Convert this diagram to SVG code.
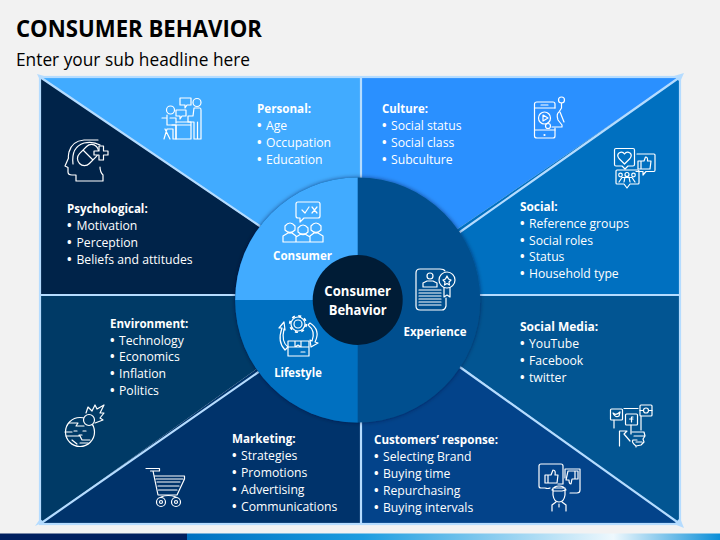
<svg xmlns="http://www.w3.org/2000/svg" width="720" height="540" viewBox="0 0 720 540">
<style>
text{font-family:"Open Sans","Liberation Sans",sans-serif;fill:#fff;font-size:12.2px}
.h{font-weight:700}
.b{font-weight:700}
.t{font-weight:700;font-size:23.5px;fill:#000}
.s{font-size:17.6px;fill:#000}
.c{font-weight:700;text-anchor:middle}
.m{font-weight:700;font-size:14px;text-anchor:middle}
.i{fill:none;stroke:#fff;stroke-width:1.2;stroke-linejoin:round;stroke-linecap:round}
.ln{stroke:#b5dcff;stroke-width:2.2;fill:none}
</style>
<defs>
<linearGradient id="bar" x1="0" x2="1" y1="0" y2="0">
<stop offset="0" stop-color="#0070c0"/><stop offset=".33" stop-color="#1c9de0"/><stop offset=".8" stop-color="#eef8fd"/><stop offset="1" stop-color="#0a8ed8"/>
</linearGradient>
<filter id="sh" x="-10%" y="-10%" width="120%" height="120%"><feDropShadow dx="0" dy="0" stdDeviation="2" flood-color="#001530" flood-opacity=".55"/></filter>
</defs>
<rect width="720" height="540" fill="#f2f2f2"/>
<rect y="533.5" width="187" height="6.5" fill="#001f5f"/>
<rect x="187" y="533.5" width="533" height="6.5" fill="url(#bar)"/>
<text class="t" x="16" y="37" textLength="246" lengthAdjust="spacingAndGlyphs">CONSUMER BEHAVIOR</text>
<text class="s" x="16" y="66" textLength="234" lengthAdjust="spacingAndGlyphs">Enter your sub headline here</text>

<g id="sectors">
<polygon points="40,77 360,77 360,295" fill="#41abff"/>
<polygon points="361,77 680,77 361,295" fill="#2a90ff"/>
<polygon points="680,77 680,295 361,295" fill="#0070c0"/>
<polygon points="680,295 680,524 361,295" fill="#025592"/>
<polygon points="680,524 361,524 361,295" fill="#03438a"/>
<polygon points="360,524 40,524 360,295" fill="#00336b"/>
<polygon points="40,524 40,295 360,295" fill="#003a66"/>
<polygon points="40,295 40,77 360,295" fill="#002349"/>
</g>
<g id="connectors">
<rect class="ln" x="40" y="77" width="640" height="447"/>
<path class="ln" d="M40 77L270 233M680 77L450 239M40 524L270 364M680 524L450 360M40 295H250M470 295H680M361 77V190M361 410V524"/>
<path d="M37 74L44 76L40 80ZM684 73L674 76L680 82ZM35 526L44 522L40 519ZM684 528L674 524L680 518Z" fill="#b5dcff"/>
</g>

<g id="wheel">
<circle cx="357.7" cy="300" r="122.5" fill="#01508f" filter="url(#sh)"/>
<path d="M357.7 300V177.500A122.500 122.500 0 0 0 235.200 300Z" fill="#41abff"/>
<path d="M357.7 300H235.200A122.500 122.500 0 0 0 357.700 422.500Z" fill="#0070c0"/>
</g>

<g id="consumer">
<text class="c" x="302.500" y="260" textLength="59" lengthAdjust="spacingAndGlyphs">Consumer</text>
<g class="i">
<path d="M298 202H318Q320 202 320 204V216Q320 218 318 218H304L300 222V218H298Q296 218 296 216V204Q296 202 298 202Z"/><path d="M302 210L305 213L309 207M312 207L317 213M317 207L312 213"/>
<path d="M285 226Q290 220 295 226V230Q290 235 285 230ZM298 228Q303 222 308 228V232Q303 237 298 232ZM311 226Q316 220 321 226V230Q316 235 311 230Z"/>
<path d="M283 242V236L288 233H292L296 236V242ZM296 242V237L301 234H305L310 237V242ZM310 242V236L314 233H318L323 236V242Z"/>
</g>
</g>
<g id="experience">
<text class="c" x="435" y="336" textLength="63" lengthAdjust="spacingAndGlyphs">Experience</text>
<g class="i">
<path d="M445 271Q444 269 440 269H420Q416 269 416 273V306Q416 310 420 310H442Q445 310 446 306V298"/>
<circle cx="430" cy="276" r="3"/><path d="M423 287V283L427 281H433L437 283V287Z"/>
<path d="M419 290H441M419 293H441M419 296H441M419 299H441M419 302H441M419 305H441"/>
<circle cx="447" cy="280" r="8"/><path d="M447 276L448.500 279L451 280L449 282L449.500 285L447 283.500L444.500 285L445 282L443 280L445.500 279Z"/><path d="M444 288V297L447 295L450 297V288"/>
</g>
</g>
<g id="lifestyle">
<text class="c" x="298" y="377" textLength="47.700" lengthAdjust="spacingAndGlyphs">Lifestyle</text>
<g class="i">
<circle cx="298" cy="324" r="7"/><circle cx="298" cy="324" r="4"/><circle cx="298" cy="324" r="8.200" stroke-dasharray="3 3.440" stroke-width="1.800" stroke-linecap="butt"/>
<path d="M288 341H309V356H288ZM288 347H309M295 341V347L298 345L301 347V341M301 352H305"/>
<path d="M285 350Q277 342 282 328L279 328L284 322L285 330L284 329Q281 342 288 347Z"/>
<path d="M310 323Q321 330 315 342L318 343L311 347L310 340L312 341Q316 331 308 325Z"/>
</g>
</g>
<g id="center">
<circle cx="357.7" cy="300" r="45" fill="#001c36"/>
<text class="m" x="357.700" y="296" textLength="66.700" lengthAdjust="spacingAndGlyphs">Consumer</text>
<text class="m" x="357.700" y="315" textLength="58" lengthAdjust="spacingAndGlyphs">Behavior</text>
</g>

<g id="personal">
<text class="h" x="257" y="113" textLength="54" lengthAdjust="spacingAndGlyphs">Personal:</text>
<text class="b" x="257" y="130">•</text><text x="266" y="130">Age</text>
<text class="b" x="257" y="147">•</text><text x="266" y="147">Occupation</text>
<text class="b" x="257" y="164">•</text><text x="266" y="164">Education</text>
<g class="i">
<circle cx="170.500" cy="110" r="4"/><circle cx="197" cy="102.500" r="4"/>
<path d="M180 98H191V105H187L185 108V105H180ZM176 110H186V116H182L180 119V116H176Z"/>
<path d="M167 115V125H176V139H173V129H167L164 139M165 129L170 139M162 118L166 118"/>
<path d="M170 118H176V123M172 125H191V122H177M176 125V139H191V125"/>
<path d="M194 108H200Q201 108 201 110V139H194V122H188V116H193ZM197.500 122V139"/>
</g>
</g>
<g id="culture">
<text class="h" x="382" y="113" textLength="46" lengthAdjust="spacingAndGlyphs">Culture:</text>
<text class="b" x="382" y="130">•</text><text x="391" y="130">Social status</text>
<text class="b" x="382" y="147">•</text><text x="391" y="147">Social class</text>
<text class="b" x="382" y="164">•</text><text x="391" y="164">Subculture</text>
<g class="i">
<path d="M555 108V104Q555 102 553 102H537Q534.500 102 534.500 104V136Q534.500 138 537 138H553Q555 138 555 136V128"/>
<path d="M534.500 108H555M534.500 130H555M541 105H548"/><circle cx="544.500" cy="135" r=".5"/>
<circle cx="544.500" cy="118" r="6"/><path d="M543 115L548 118L543 121Z"/><circle cx="548" cy="126" r="2.500"/>
<circle cx="561.500" cy="100" r="3"/><path d="M561.500 103V108L559 112Q556 114 558 120L562 125L562 127H552"/>
<path d="M560 112L564 122"/>
</g>
</g>
<g id="social">
<text class="h" x="520" y="211" textLength="37.700" lengthAdjust="spacingAndGlyphs">Social:</text>
<text class="b" x="520" y="228">•</text><text x="529" y="228">Reference groups</text>
<text class="b" x="520" y="244.500">•</text><text x="529" y="244.500">Social roles</text>
<text class="b" x="520" y="261">•</text><text x="529" y="261">Status</text>
<text class="b" x="520" y="278">•</text><text x="529" y="278">Household type</text>
<g class="i">
<path d="M616 148.500H633Q634.500 148.500 634.500 150V164.500Q634.500 166 633 166H628L625 169L622 166H616Q614.500 166 614.500 164.500V150Q614.500 148.500 616 148.500Z"/>
<path d="M624.500 164L619 158.500Q616.500 155 619 153Q622.500 151 624.500 154Q626.500 151 630 153Q632.500 155 630 158.500Z"/>
<path d="M637 154H654Q655 154 655 155V170Q655 171.500 654 171.500H646L643 175V171.500H636"/>
<path d="M638 161H641V169H638ZM641 161L644 161L645.500 157Q648 157 647.500 161H651L650 169H641"/>
<path d="M617 170H638Q639 170 639 171V183Q639 184 638 184H630L627 188L624 184H617Q616 184 616 183V171Q616 170 617 170Z"/>
<circle cx="627" cy="174.500" r="2"/><circle cx="620.500" cy="175" r="1.800"/><circle cx="633.500" cy="175" r="1.800"/>
<path d="M619 182L622 177.500H632L635 182M624 182L625 177M630 182L629 177"/>
</g>
</g>
<g id="psychological">
<text class="h" x="67" y="213" textLength="80.700" lengthAdjust="spacingAndGlyphs">Psychological:</text>
<text class="b" x="67" y="230">•</text><text x="76.500" y="230">Motivation</text>
<text class="b" x="67" y="247">•</text><text x="76.500" y="247">Perception</text>
<text class="b" x="67" y="264">•</text><text x="76.500" y="264">Beliefs and attitudes</text>
<g class="i">
<path d="M98 140H84Q72 141 69 152Q68 157 68.500 158L65 166L68 167.500V172Q68 175 72 175H76V181H103V175Q100 172 100 167"/>
<path d="M73 164Q71 147 84 143Q93 141 100 145"/>
<rect x="76" y="148" width="24" height="14" rx="7" transform="rotate(-45 88 155)"/><path d="M83.500 150.500L92.500 159.500"/>
<path d="M99 146H103.500V151H108V155H103.500V160H99V155H94V151H99Z" fill="#002349"/>
</g>
</g>
<g id="environment">
<text class="h" x="110" y="327.500" textLength="78.300" lengthAdjust="spacingAndGlyphs">Environment:</text>
<text class="b" x="110" y="344.500">•</text><text x="119" y="344.500">Technology</text>
<text class="b" x="110" y="361">•</text><text x="119" y="361">Economics</text>
<text class="b" x="110" y="378">•</text><text x="119" y="378">Inflation</text>
<text class="b" x="110" y="395">•</text><text x="119" y="395">Politics</text>
<g class="i">
<circle cx="80" cy="432" r="14.500"/><circle cx="89" cy="420" r="5.500" fill="#003a66"/>
<path d="M86 413L88 407L92 411L95 405L97 409L104 405L100 413L104 413L100 418L103 420L95 423"/>
<path d="M69 423H78L76 426H84M65 432H72M66 436H80L82 440H90M72 440L77 444M80 443H88M74 431H77M83 431H86M79 435H82"/>
</g>
</g>
<g id="marketing">
<text class="h" x="232" y="443" textLength="63.700" lengthAdjust="spacingAndGlyphs">Marketing:</text>
<text class="b" x="232" y="460">•</text><text x="241" y="460">Strategies</text>
<text class="b" x="232" y="477">•</text><text x="241" y="477">Promotions</text>
<text class="b" x="232" y="494">•</text><text x="241" y="494">Advertising</text>
<text class="b" x="232" y="511">•</text><text x="241" y="511">Communications</text>
<g class="i">
<path d="M146 468.500H159.500V471H150.500M153 471L158 495H177M154 476H184.500V479L177 495M156 479H183M157 482H180M158 486H179M158.500 490H177"/>
<circle cx="161" cy="502" r="4.500"/><circle cx="161" cy="502" r="1.500"/><circle cx="176" cy="502" r="4.500"/><circle cx="176" cy="502" r="1.500"/>
<path d="M161 497Q168 494 176 497"/>
</g>
</g>
<g id="social-media">
<text class="h" x="520" y="331" textLength="78.300" lengthAdjust="spacingAndGlyphs">Social Media:</text>
<text class="b" x="520" y="348">•</text><text x="529" y="348">YouTube</text>
<text class="b" x="520" y="365">•</text><text x="529" y="365">Facebook</text>
<text class="b" x="520" y="382">•</text><text x="529" y="382">twitter</text>
<g class="i">
<rect x="610.500" y="409" width="12" height="11" rx="1"/><rect x="625.500" y="414" width="12" height="11" rx="1"/><rect x="640" y="405" width="12" height="11" rx="1"/>
<path d="M613 413Q616 416 620 412L619 416Q615 418 613 413Z"/><path d="M633 417H631.500V422M629.500 419H633"/><circle cx="646" cy="410.500" r="2.500"/><path d="M640 410.500H643M649 410.500H652"/>
<path d="M624 408.500H638M614 420V428M631 425V434M641 416V430"/>
<path d="M619.500 446V431L627 431L624 434L630 441"/><path d="M632 432H644L645 436L643 439L644 442L641 445L636 446Q631 442 633 440L637 440M634 436H644M636 442H642M636 446V447"/>
</g>
</g>
<g id="customers">
<text class="h" x="374" y="444" textLength="124" lengthAdjust="spacingAndGlyphs">Customers’ response:</text>
<text class="b" x="374" y="461">•</text><text x="383" y="461">Selecting Brand</text>
<text class="b" x="374" y="478">•</text><text x="383" y="478">Buying time</text>
<text class="b" x="374" y="495">•</text><text x="383" y="495">Repurchasing</text>
<text class="b" x="374" y="512">•</text><text x="383" y="512">Buying intervals</text>
<g class="i">
<path d="M558 484H563V466Q563 464 561 464H541Q539 464 539 466V486Q539 488 541 488H545Q548 489 550 488"/>
<path d="M545 475H548V483H545ZM548 475L551 475L553 470Q556 470 555 475H558L557 483H548"/>
<path d="M565 469H580V490Q580 493 577 493H570M565 469V478"/>
<path d="M568 471H575V479H572L571 484Q569 484 569 480H566ZM575 471H578V479H575"/>
<path d="M553 488H565V495Q564 502 559 502Q554 502 553 495ZM552 490Q554 486 559 486Q564 486 566 490L562 491H553"/>
<path d="M552 505L556 502M566 505L562 502M552 505V511M566 505V511M559 504V507"/>
</g>
</g>
</svg>
